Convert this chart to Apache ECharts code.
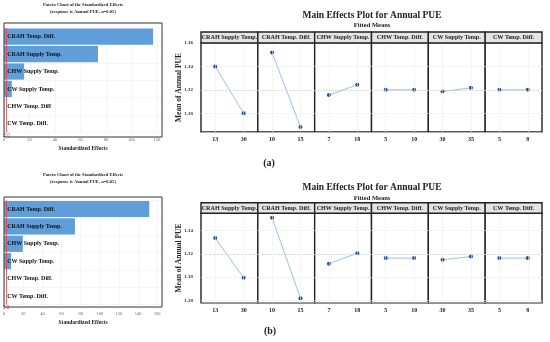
<!DOCTYPE html>
<html><head><meta charset="utf-8">
<script src="https://cdn.jsdelivr.net/npm/echarts@6/dist/echarts.min.js"></script>
<style>html,body{margin:0;padding:0;background:#fff}#c{width:550px;height:342px}</style>
</head><body><div id="c"></div>
<script>
// ---------- data ----------
const paretoFactorsA = ['CRAH Temp. Diff.', 'CRAH Supply Temp.', 'CHW Supply Temp.', 'CW Supply Temp.', 'CHW Temp. Diff', 'CW Temp. Diff.'];
const paretoEffectsA = [117, 73.7, 15.7, 6.0, 0.2, 0.1];
const paretoFactorsB = ['CRAH Temp. Diff.', 'CRAH Supply Temp.', 'CHW Supply Temp.', 'CW Supply Temp.', 'CHW Temp. Diff.', 'CW Temp. Diff.'];
const paretoEffectsB = [151.7, 74.0, 19.5, 7.3, 0.2, 0.1];
const paretoRefLine = 2.0;
const paretoMaxA = 124, paretoMaxB = 165;

const factorNames = ['CRAH Supply Temp.', 'CRAH Temp. Diff.', 'CHW Supply Temp.', 'CHW Temp. Diff.', 'CW Supply Temp.', 'CW Temp. Diff.'];
const factorLevels = [['13', '30'], ['10', '15'], ['7', '18'], ['5', '10'], ['30', '35'], ['5', '8']];
const meansA = [[1.340, 1.300], [1.3518, 1.2883], [1.3155, 1.3243], [1.320, 1.320], [1.3186, 1.3217], [1.320, 1.320]];
const meansB = [[1.3337, 1.2994], [1.3512, 1.2819], [1.3116, 1.3206], [1.3164, 1.3164], [1.3149, 1.3178], [1.3164, 1.3164]];
const grandMeanA = 1.320, grandMeanB = 1.3164;
const yRangeA = [1.284, 1.36], yRangeB = [1.278, 1.355];

// ---------- layout ----------
const SERIF = "'Liberation Serif', 'DejaVu Serif', serif";
const grids = [], xAxes = [], yAxes = [], series = [], titles = [], graphics = [];

function pareto(idx, factors, effects, max, boxTop, boxH, gridTop, gridH, titleTop, ticksMargin) {
  grids.push({left: 4, width: 158, top: gridTop, height: gridH, containLabel: false});
  xAxes.push({gridIndex: idx, type: 'value', min: 0, max: max, interval: 20,
    axisLine: {show: false}, axisTick: {show: false},
    axisLabel: {fontSize: 4.5, color: '#666', margin: ticksMargin, showMaxLabel: false, fontFamily: SERIF},
    splitLine: {show: true, lineStyle: {color: '#eeeeee', width: 0.6}},
    name: 'Standardized Effects', nameLocation: 'middle', nameGap: ticksMargin + 8,
    nameTextStyle: {fontSize: 5.5, fontWeight: 'bold', color: '#222', fontFamily: SERIF}});
  yAxes.push({gridIndex: idx, type: 'category', data: factors, inverse: true,
    axisLine: {show: false}, axisTick: {show: false}, axisLabel: {show: false},
    splitLine: {show: true, lineStyle: {color: '#f1f1f1', width: 0.6}}});
  series.push({type: 'bar', xAxisIndex: idx, yAxisIndex: idx, data: effects, barCategoryGap: '7%',
    itemStyle: {color: '#5f9ed8'}, silent: true, animation: false,
    label: {show: true, position: 'insideLeft', distance: 3, formatter: '{b}', color: '#111',
      fontSize: 6, fontWeight: 'bold', fontFamily: SERIF},
    markLine: {silent: true, symbol: 'none', animation: false,
      lineStyle: {color: '#e04040', width: 0.8, type: 'solid'},
      label: {show: true, position: 'end', formatter: String(paretoRefLine.toFixed(1)), color: '#e04040', fontSize: 4.5, distance: 1},
      data: [{xAxis: paretoRefLine}]}});
  graphics.push({type: 'rect', shape: {x: 4, y: boxTop, width: 158, height: boxH}, z: 100,
    style: {fill: 'none', stroke: '#333', lineWidth: 1}});
  titles.push({text: 'Pareto Chart of the Standardized Effects', left: 83, top: titleTop, textAlign: 'center', padding: 0,
    textStyle: {fontSize: 4.6, fontWeight: 'bold', color: '#222', fontFamily: SERIF}});
  titles.push({text: '(response is Annual PUE, \u03b1=0.05)', left: 83, top: titleTop + 7, textAlign: 'center', padding: 0,
    textStyle: {fontSize: 4.6, fontWeight: 'bold', color: '#222', fontFamily: SERIF}});
}

pareto(0, paretoFactorsA, paretoEffectsA, paretoMaxA, 23, 114, 28, 104.5, 2.7, 5);
pareto(1, paretoFactorsB, paretoEffectsB, paretoMaxB, 197, 110, 200.3, 104.4, 172.7, 7);

function mainEffects(startIdx, means, grandMean, yRange, stripTop, dataTop, dataH, titleTop, showMaxLbl) {
  const left0 = 201, w = 341 / 6;
  for (let i = 0; i < 6; i++) {
    const gi = startIdx + i;
    grids.push({left: left0 + i * w, width: w, top: dataTop, height: dataH, show: true,
      borderColor: '#222', borderWidth: 1.4, backgroundColor: '#fff', containLabel: false});
    xAxes.push({gridIndex: gi, type: 'category', data: factorLevels[i], boundaryGap: true,
      axisLine: {show: false}, axisTick: {show: false}, splitLine: {show: false},
      axisLabel: {fontSize: 6, fontWeight: 'bold', color: '#222', margin: 4.5, fontFamily: SERIF}});
    const ya = {gridIndex: gi, type: 'value', min: yRange[0], max: yRange[1], splitNumber: 4,
      axisLine: {show: false}, axisTick: {show: false},
      splitLine: {show: true, lineStyle: {color: '#ececec', width: 0.6}},
      axisLabel: {show: i === 0, fontSize: 5, fontWeight: 'bold', color: '#333', margin: 8,
        showMinLabel: false, showMaxLabel: showMaxLbl, fontFamily: SERIF,
        formatter: v => v.toFixed(2)}};
    if (i === 0) {
      ya.name = 'Mean of Annual PUE'; ya.nameLocation = 'middle'; ya.nameGap = 17.5; ya.nameMoveOverlap = false;
      ya.nameTextStyle = {fontSize: 7.5, fontWeight: 'bold', color: '#222', fontFamily: SERIF};
    }
    yAxes.push(ya);
    series.push({type: 'line', xAxisIndex: gi, yAxisIndex: gi, data: means[i], silent: true, animation: false,
      symbol: 'circle', symbolSize: 4, lineStyle: {color: '#8dbbe6', width: 0.9},
      itemStyle: {color: '#1f4f96'},
      markLine: {silent: true, symbol: 'none', animation: false, label: {show: false},
        data: [
          {yAxis: grandMean, lineStyle: {color: '#cfcfcf', width: 0.7, type: [2, 2]}},
          {xAxis: 0, lineStyle: {color: '#ececec', width: 0.6, type: 'solid'}},
          {xAxis: 1, lineStyle: {color: '#ececec', width: 0.6, type: 'solid'}}
        ]}});
    graphics.push({type: 'rect', shape: {x: left0 + i * w, y: stripTop, width: w, height: dataTop - stripTop}, z: 100,
      style: {fill: '#e4e4e4', stroke: '#222', lineWidth: 1.4}});
    graphics.push({type: 'text', x: left0 + i * w + w / 2, y: stripTop + (dataTop - stripTop) / 2, z: 101,
      style: {text: factorNames[i], textAlign: 'center', textVerticalAlign: 'middle',
        font: 'bold 6.1px ' + SERIF, fill: '#222'}});
  }
  titles.push({text: 'Main Effects Plot for Annual PUE', left: 372, top: titleTop, textAlign: 'center', padding: 0,
    textStyle: {fontSize: 9.5, fontWeight: 'bold', color: '#222', fontFamily: SERIF}});
  titles.push({text: 'Fitted Means', left: 372, top: titleTop + 11.5, textAlign: 'center', padding: 0,
    textStyle: {fontSize: 6.5, fontWeight: 'bold', color: '#222', fontFamily: SERIF}});
}

mainEffects(2, meansA, grandMeanA, yRangeA, 32, 43, 89, 10.8, true);
mainEffects(8, meansB, grandMeanB, yRangeB, 202.7, 213.3, 89.4, 183, false);

titles.push({text: '(a)', left: 269, top: 158, textAlign: 'center', padding: 0,
  textStyle: {fontSize: 10, fontWeight: 'bold', color: '#222', fontFamily: SERIF}});
titles.push({text: '(b)', left: 270, top: 326.5, textAlign: 'center', padding: 0,
  textStyle: {fontSize: 10, fontWeight: 'bold', color: '#222', fontFamily: SERIF}});

const chart = echarts.init(document.getElementById('c'), null, {renderer: 'canvas'});
chart.setOption({animation: false, backgroundColor: '#fff', title: titles, grid: grids,
  xAxis: xAxes, yAxis: yAxes, series: series, graphic: graphics});
</script></body></html>
